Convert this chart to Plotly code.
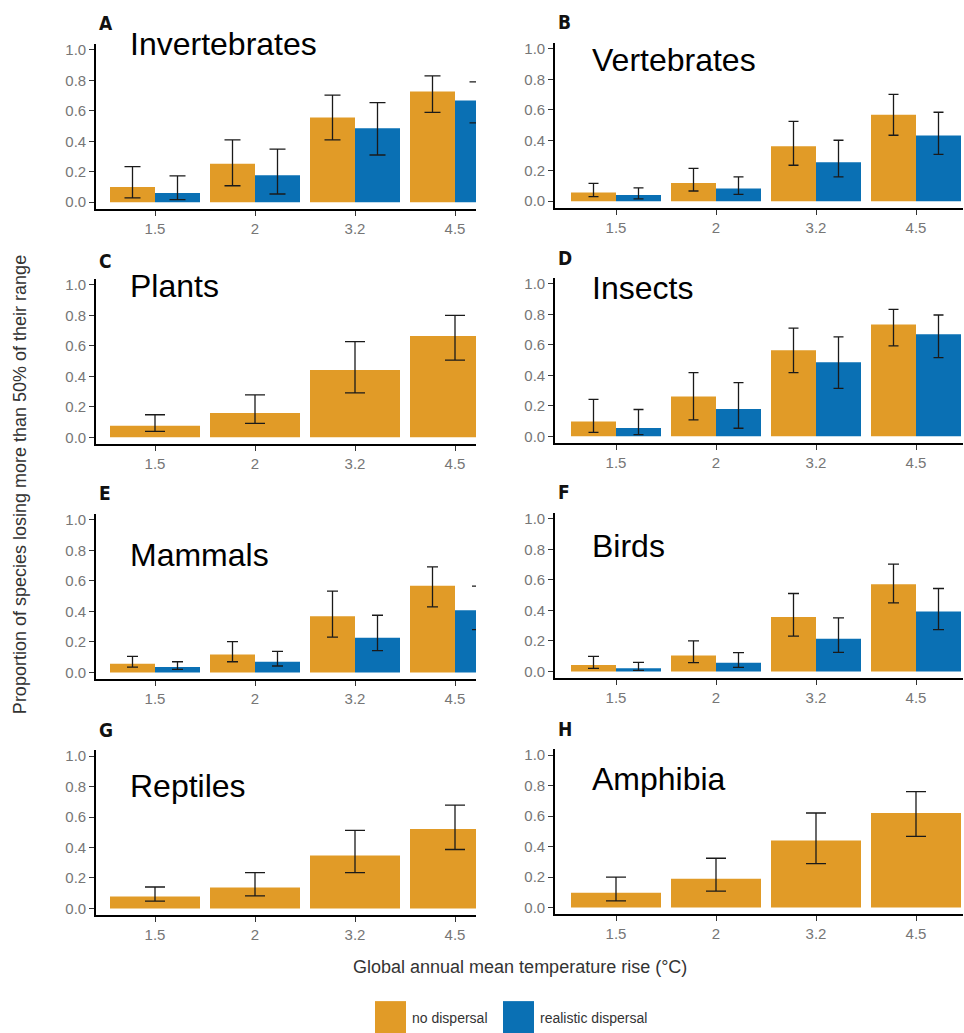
import plotly.graph_objects as go

W, H = 964, 1033

categories = ["1.5", "2", "3.2", "4.5"]
panel_letters = ["A", "B", "C", "D", "E", "F", "G", "H"]
panel_names = ["Invertebrates", "Vertebrates", "Plants", "Insects",
               "Mammals", "Birds", "Reptiles", "Amphibia"]

# ---- data: proportion of species losing >50% of range (value, upper, lower) ----
# no dispersal
invert_no = [0.100, 0.253, 0.556, 0.727]
invert_no_hi = [0.234, 0.409, 0.703, 0.829]
invert_no_lo = [0.028, 0.108, 0.409, 0.589]
vert_no = [0.058, 0.119, 0.361, 0.567]
vert_no_hi = [0.117, 0.216, 0.524, 0.701]
vert_no_lo = [0.030, 0.067, 0.236, 0.433]
plants_no = [0.076, 0.159, 0.441, 0.665]
plants_no_hi = [0.148, 0.278, 0.628, 0.800]
plants_no_lo = [0.039, 0.091, 0.291, 0.507]
insects_no = [0.097, 0.262, 0.565, 0.734]
insects_no_hi = [0.242, 0.418, 0.710, 0.833]
insects_no_lo = [0.026, 0.108, 0.418, 0.593]
mammals_no = [0.057, 0.118, 0.368, 0.568]
mammals_no_hi = [0.105, 0.202, 0.533, 0.693]
mammals_no_lo = [0.035, 0.070, 0.232, 0.430]
birds_no = [0.042, 0.105, 0.357, 0.572]
birds_no_hi = [0.099, 0.200, 0.511, 0.704]
birds_no_lo = [0.020, 0.057, 0.232, 0.450]
reptiles_no = [0.078, 0.137, 0.348, 0.522]
reptiles_no_hi = [0.141, 0.235, 0.513, 0.678]
reptiles_no_lo = [0.048, 0.083, 0.235, 0.387]
amphibia_no = [0.096, 0.188, 0.439, 0.620]
amphibia_no_hi = [0.199, 0.323, 0.620, 0.760]
amphibia_no_lo = [0.044, 0.107, 0.288, 0.467]

# realistic dispersal
invert_re = [0.061, 0.177, 0.485, 0.667]
invert_re_hi = [0.173, 0.348, 0.654, 0.790]
invert_re_lo = [0.017, 0.054, 0.310, 0.520]
vert_re = [0.041, 0.084, 0.255, 0.431]
vert_re_hi = [0.087, 0.160, 0.400, 0.584]
vert_re_lo = [0.015, 0.045, 0.160, 0.307]
insects_re = [0.055, 0.180, 0.486, 0.670]
insects_re_hi = [0.176, 0.352, 0.653, 0.796]
insects_re_lo = [0.011, 0.053, 0.314, 0.516]
mammals_re = [0.035, 0.070, 0.228, 0.408]
mammals_re_hi = [0.070, 0.138, 0.375, 0.566]
mammals_re_lo = [0.020, 0.042, 0.143, 0.281]
birds_re = [0.020, 0.057, 0.215, 0.393]
birds_re_hi = [0.059, 0.123, 0.351, 0.544]
birds_re_lo = [0.007, 0.026, 0.125, 0.274]

no_series = [
    (invert_no, invert_no_hi, invert_no_lo),
    (vert_no, vert_no_hi, vert_no_lo),
    (plants_no, plants_no_hi, plants_no_lo),
    (insects_no, insects_no_hi, insects_no_lo),
    (mammals_no, mammals_no_hi, mammals_no_lo),
    (birds_no, birds_no_hi, birds_no_lo),
    (reptiles_no, reptiles_no_hi, reptiles_no_lo),
    (amphibia_no, amphibia_no_hi, amphibia_no_lo),
]
re_series = [
    (invert_re, invert_re_hi, invert_re_lo),
    (vert_re, vert_re_hi, vert_re_lo),
    None,
    (insects_re, insects_re_hi, insects_re_lo),
    (mammals_re, mammals_re_hi, mammals_re_lo),
    (birds_re, birds_re_hi, birds_re_lo),
    None,
    None,
]

ORANGE = "#E19B27"
BLUE = "#0A70B4"

# ---- layout geometry (pixels) ----
zero_px = [200, 199, 436, 435, 672, 671, 909, 908]   # pixel row of y=0
unit_px = 153.0
y_lo, y_hi = -0.046, 1.04
col_x = [(96, 476), (555, 963)]
col_range = [(-0.59, 3.21), (-0.61, 3.47)]
cap_w = [8, 5, 10, 5, 5.5, 5.5, 10, 10]
name_pos = [(128, 41), (590, 57), (128, 284), (590, 286),
            (128, 554), (590, 545), (128, 786), (590, 779)]
letter_pos = [(97, 20), (556, 19), (97, 259), (556, 256),
              (97, 492), (556, 491), (97, 730), (556, 729)]

def px_x(p):
    return p / W

def px_y(p):
    return 1 - p / H

fig = go.Figure()
layout_axes = {}
annotations = []
tick_font = dict(family="Liberation Sans, Arial", size=15, color="#767676")

for i in range(8):
    col = i % 2
    n = i + 1
    xa = "x" if n == 1 else f"x{n}"
    ya = "y" if n == 1 else f"y{n}"
    vals, hi, lo = no_series[i]
    fig.add_trace(go.Bar(
        x=categories, y=vals, name="no dispersal",
        marker=dict(color=ORANGE, line=dict(width=0)),
        error_y=dict(type="data", symmetric=False,
                     array=[h - v for h, v in zip(hi, vals)],
                     arrayminus=[v - l for v, l in zip(vals, lo)],
                     color="#1a1a1a", thickness=1.3, width=cap_w[i]),
        xaxis=xa, yaxis=ya, showlegend=False))
    if re_series[i] is not None:
        vals, hi, lo = re_series[i]
        fig.add_trace(go.Bar(
            x=categories, y=vals, name="realistic dispersal",
            marker=dict(color=BLUE, line=dict(width=0)),
            error_y=dict(type="data", symmetric=False,
                         array=[h - v for h, v in zip(hi, vals)],
                         arrayminus=[v - l for v, l in zip(vals, lo)],
                         color="#1a1a1a", thickness=1.3, width=cap_w[i]),
            xaxis=xa, yaxis=ya, showlegend=False))

    z = zero_px[i]
    bottom = z - y_lo * unit_px
    top = z - y_hi * unit_px
    x0, x1 = col_x[col]
    key_x = "xaxis" if n == 1 else f"xaxis{n}"
    key_y = "yaxis" if n == 1 else f"yaxis{n}"
    layout_axes[key_x] = dict(
        domain=[px_x(x0), px_x(x1)], anchor=ya, type="category",
        categoryorder="array", categoryarray=categories,
        range=list(col_range[col]), showline=True, linecolor="black",
        linewidth=1.6, ticks="outside", ticklen=5, tickwidth=1.2,
        tickcolor="#333333", showgrid=False, zeroline=False,
        tickfont=tick_font, fixedrange=True)
    layout_axes[key_y] = dict(
        domain=[px_y(bottom), px_y(top)], anchor=xa,
        range=[y_lo, y_hi], tickvals=[0, 0.2, 0.4, 0.6, 0.8, 1.0],
        tickformat=".1f", showline=True, linecolor="black", linewidth=1.6,
        ticks="outside", ticklen=5, tickwidth=1.2, tickcolor="#333333",
        showgrid=False, zeroline=False, tickfont=tick_font, fixedrange=True)

    lx, ly = letter_pos[i]
    annotations.append(dict(
        text=f"<b>{panel_letters[i]}</b>", x=px_x(lx), y=px_y(ly),
        xref="paper", yref="paper", xanchor="left", yanchor="middle",
        showarrow=False,
        font=dict(family="Liberation Sans Narrow, DejaVu Sans Condensed, Arial Narrow",
                  size=19, color="#111111")))
    nx, ny = name_pos[i]
    annotations.append(dict(
        text=panel_names[i], x=px_x(nx), y=px_y(ny),
        xref="paper", yref="paper", xanchor="left", yanchor="middle",
        showarrow=False,
        font=dict(family="Liberation Sans, Arial", size=32, color="black")))

# axis titles
annotations.append(dict(
    text="Proportion of species losing more than 50% of their range",
    x=px_x(20), y=px_y(484), xref="paper", yref="paper",
    xanchor="center", yanchor="middle", textangle=-90, showarrow=False,
    font=dict(family="Liberation Sans, Arial", size=18, color="#333333")))
annotations.append(dict(
    text="Global annual mean temperature rise (°C)",
    x=px_x(520), y=px_y(968), xref="paper", yref="paper",
    xanchor="center", yanchor="middle", showarrow=False,
    font=dict(family="Liberation Sans, Arial", size=18, color="#333333")))

# legend (drawn as keys + labels)
legend_items = [("no dispersal", ORANGE, 375, 410), ("realistic dispersal", BLUE, 503, 538)]
shapes = []
for label, color, kx, tx in legend_items:
    shapes.append(dict(type="rect", xref="paper", yref="paper",
                       x0=px_x(kx), x1=px_x(kx + 31), y0=px_y(1034), y1=px_y(1002),
                       fillcolor=color, line=dict(width=0)))
    annotations.append(dict(
        text=label, x=px_x(tx), y=px_y(1019), xref="paper", yref="paper",
        xanchor="left", yanchor="middle", showarrow=False,
        font=dict(family="Liberation Sans, Arial", size=14, color="#333333")))

fig.update_layout(
    width=W, height=H, margin=dict(l=0, r=0, t=0, b=0),
    paper_bgcolor="white", plot_bgcolor="white",
    barmode="group", bargap=0.1, bargroupgap=0.0,
    showlegend=False, annotations=annotations, shapes=shapes,
    **layout_axes)

fig.write_html("out.html")
